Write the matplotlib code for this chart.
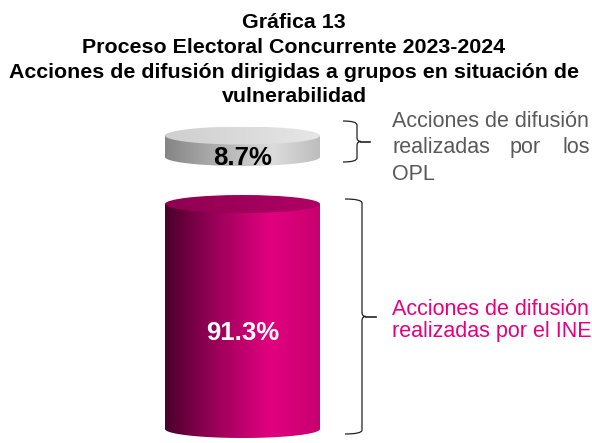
import numpy as np
import matplotlib.pyplot as plt
from matplotlib.path import Path
from matplotlib.patches import PathPatch, Ellipse
from matplotlib.colors import LinearSegmentedColormap

plt.rcParams['font.family'] = ['Liberation Sans', 'DejaVu Sans']

# data
labels = ['Acciones de difusión realizadas por los OPL',
          'Acciones de difusión realizadas por el INE']
values = [8.7, 91.3]
title_lines = ['Gráfica 13',
               'Proceso Electoral Concurrente 2023-2024',
               'Acciones de difusión dirigidas a grupos en situación de',
               'vulnerabilidad']

W, H = 592, 443
fig = plt.figure(figsize=(W / 100, H / 100), dpi=100)
ax = fig.add_axes([0, 0, 1, 1])
ax.set_xlim(0, W)
ax.set_ylim(H, 0)
ax.axis('off')

# title, one line at a time (baselines)
for txt, y in zip(title_lines, [28, 53, 77.5, 102]):
    ax.text(294, y, txt, ha='center', va='baseline', fontsize=15.4,
            fontweight='bold', color='black')

# cylinder geometry (pixels)
cx, rx, ry = 242.5, 77.5, 9
px_per_unit = 225 / values[1]
gap = 47
bottom_inf = 429

side_cmaps = [
    LinearSegmentedColormap.from_list('g', [(0, '#858585'), (0.7, '#dcdcdc'), (1, '#bdbdbd')]),
    LinearSegmentedColormap.from_list('m', [(0, '#4a002c'), (0.35, '#a0005c'),
                                            (0.68, '#e2007f'), (1, '#c8006f')]),
]
top_cmaps = [
    LinearSegmentedColormap.from_list('gt', [(0, '#cfcfcf'), (1, '#e6e6e6')]),
    LinearSegmentedColormap.from_list('mt', [(0, '#8e004f'), (0.6, '#a3005d'), (1, '#b00066')]),
]


def cylinder(yb, h, side_cmap, top_cmap):
    yt = yb - h
    # side: straight top edge + lower half ellipse at the bottom
    verts = [(cx - rx, yt)]
    verts += [(cx + rx * np.cos(a), yb + ry * np.sin(a)) for a in np.linspace(np.pi, 0, 60)]
    verts += [(cx + rx, yt), (cx - rx, yt)]
    patch = PathPatch(Path(verts, closed=True), facecolor='none', edgecolor='none')
    ax.add_patch(patch)
    grad = np.linspace(0, 1, 256).reshape(1, -1)
    im = ax.imshow(grad, cmap=side_cmap, aspect='auto',
                   extent=[cx - rx, cx + rx, yb + ry, yt], zorder=2)
    im.set_clip_path(patch)
    # top face
    top = Ellipse((cx, yt), 2 * rx, 2 * ry, facecolor='none', edgecolor='none')
    ax.add_patch(top)
    im2 = ax.imshow(grad, cmap=top_cmap, aspect='auto',
                    extent=[cx - rx, cx + rx, yt + ry, yt - ry], zorder=3)
    im2.set_clip_path(top)
    return yt


y_inf_top = cylinder(bottom_inf, values[1] * px_per_unit, side_cmaps[1], top_cmaps[1])
y_opl_bottom = y_inf_top - gap
y_opl_top = cylinder(y_opl_bottom, values[0] * px_per_unit, side_cmaps[0], top_cmaps[0])

# value labels
ax.text(cx, y_opl_bottom + 8, f'{values[0]}%', ha='center', va='baseline',
        fontsize=18.5, fontweight='bold', color='black', zorder=5)
ax.text(cx, (y_inf_top + bottom_inf) / 2 + 23, f'{values[1]}%', ha='center', va='baseline',
        fontsize=18.5, fontweight='bold', color='white', zorder=5)


def brace(x_left, x_mid, x_tip, y0, y1):
    ym = (y0 + y1) / 2
    r = 4
    verts = [(x_left, y0), (x_mid, y0), (x_mid, y0 + r),
             (x_mid, ym - r), (x_mid, ym), (x_mid + 4, ym),
             (x_mid, ym), (x_mid, ym + r),
             (x_mid, y1 - r), (x_mid, y1), (x_left, y1)]
    codes = [Path.MOVETO, Path.CURVE3, Path.CURVE3,
             Path.LINETO, Path.CURVE3, Path.CURVE3,
             Path.CURVE3, Path.CURVE3,
             Path.LINETO, Path.CURVE3, Path.CURVE3]
    ax.add_patch(PathPatch(Path(verts, codes), facecolor='none',
                           edgecolor='#222222', lw=0.9))
    ax.plot([x_mid + 4, x_tip], [ym, ym], color='#222222', lw=1.2)


brace(343, 357, 370, 121, 162)
brace(345, 362, 376, 199, 434)

# side labels (first one justified)
gray = '#595959'
pink = '#e6007e'
fs = 15.5
xl, xr = 392, 590
ax.text(xl, 127, 'Acciones de difusión', ha='left', va='baseline', fontsize=fs, color=gray)
ax.text(xl, 153, 'realizadas', ha='left', va='baseline', fontsize=fs, color=gray)
ax.text(525, 153, 'por', ha='center', va='baseline', fontsize=fs, color=gray)
ax.text(xr, 153, 'los', ha='right', va='baseline', fontsize=fs, color=gray)
ax.text(xl, 179.5, 'OPL', ha='left', va='baseline', fontsize=fs, color=gray)
ax.text(xl, 315, 'Acciones de difusión', ha='left', va='baseline', fontsize=fs, color=pink)
ax.text(xl, 337, 'realizadas por el INE', ha='left', va='baseline', fontsize=fs, color=pink)

fig.savefig('out.png', dpi=100)
